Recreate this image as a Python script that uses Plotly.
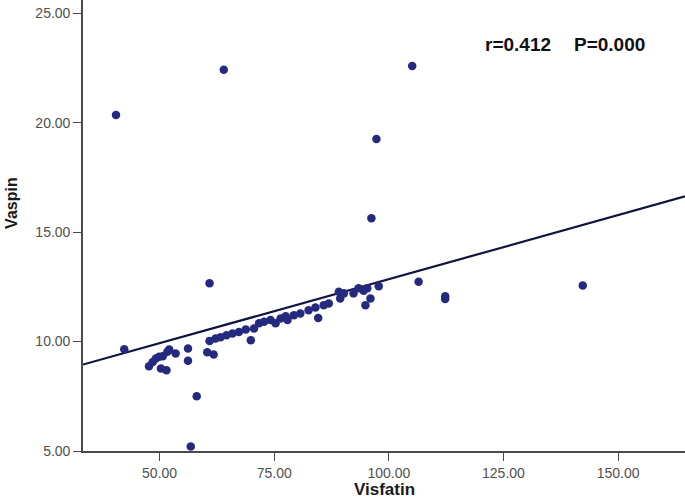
import numpy as np
import plotly.graph_objects as go

# ------Data----------------------------------

visfatin = [42.3, 47.7, 48.5, 49.2, 49.9, 50.7, 50.3, 51.5, 51.7, 52.1,
            53.5, 56.2, 56.2, 58.1, 56.8, 60.4, 61.8, 60.9, 62.2, 63.3,
            64.6, 65.9, 67.3, 68.8, 69.9, 70.6, 71.7, 72.8, 74.2, 75.3,
            76.4, 77.5, 77.9, 79.3, 80.7, 82.5, 84.0, 84.6, 85.8, 86.9,
            89.1, 90.2, 89.4, 92.3, 93.4, 94.5, 95.3, 96.0, 94.9, 97.8,
            106.5, 40.5, 64.0, 105.1, 97.3, 96.2, 60.9, 112.3, 112.3, 142.3]

vaspin = [9.65, 8.87, 9.07, 9.22, 9.30, 9.33, 8.77, 8.69, 9.53, 9.64,
          9.45, 9.68, 9.12, 7.50, 5.21, 9.51, 9.41, 10.03, 10.14, 10.20,
          10.29, 10.37, 10.44, 10.55, 10.06, 10.60, 10.83, 10.90, 10.98, 10.83,
          11.05, 11.16, 10.98, 11.20, 11.28, 11.43, 11.55, 11.08, 11.66, 11.74,
          12.27, 12.20, 11.97, 12.20, 12.43, 12.32, 12.43, 11.97, 11.66, 12.53,
          12.73, 20.35, 22.41, 22.59, 19.25, 15.63, 12.66, 12.07, 11.94, 12.56]

fit_intercept = 7.00
fit_slope = 0.0585
stat_r = "r=0.412"
stat_p = "P=0.000"

x_ticks = [50, 75, 100, 125, 150]
y_ticks = [5, 10, 15, 20, 25]

# ------Graph Generation--------

x_range = [33.3, 164.6]
y_range = [5.0, 25.6]

line_x = np.array(x_range)
line_y = fit_intercept + fit_slope * line_x

font = "Liberation Sans, Arial, sans-serif"
dot_color = "#262a7e"

fig = go.Figure()
fig.add_trace(go.Scatter(x=line_x, y=line_y, mode="lines",
                         line=dict(color="#10143f", width=2.2),
                         hoverinfo="skip"))
fig.add_trace(go.Scatter(x=visfatin, y=vaspin, mode="markers",
                         marker=dict(color=dot_color, size=8.5, line_width=0),
                         cliponaxis=False))

# --------Axes-----------

axis_common = dict(showline=True, linewidth=1.6, linecolor="#4a4a4a",
                   ticks="outside", ticklen=8, tickwidth=1.3, tickcolor="#4a4a4a",
                   showgrid=False, zeroline=False, tickformat=".2f",
                   tickfont=dict(family=font, size=14, color="#505050"))

fig.update_xaxes(range=x_range, tickvals=x_ticks, **axis_common)
fig.update_yaxes(range=y_range, tickvals=y_ticks, **axis_common)

fig.update_layout(
    width=685, height=500,
    showlegend=False,
    plot_bgcolor="white",
    paper_bgcolor="white",
    margin=dict(l=83, r=0, t=0, b=49),
    font=dict(family=font),
)

# ----------Titles / annotations----------

fig.add_annotation(text="<b>Visfatin</b>", xref="paper", yref="paper",
                   x=0.5, y=-0.085, xanchor="center", yanchor="middle",
                   showarrow=False, font=dict(family=font, size=17, color="#1a1a1a"))
fig.add_annotation(text="<b>Vaspin</b>", xref="paper", yref="paper",
                   x=-0.118, y=0.55, xanchor="center", yanchor="middle",
                   textangle=-90, showarrow=False,
                   font=dict(family=font, size=16, color="#1a1a1a"))
fig.add_annotation(text="<b>" + stat_r + "</b>", xref="paper", yref="paper",
                   x=0.664, y=0.902, xanchor="left", yanchor="middle",
                   showarrow=False, font=dict(family=font, size=19, color="#111111"))
fig.add_annotation(text="<b>" + stat_p + "</b>", xref="paper", yref="paper",
                   x=0.812, y=0.902, xanchor="left", yanchor="middle",
                   showarrow=False, font=dict(family=font, size=19, color="#111111"))

# page has a default 8px body margin; drop it so the figure sits at 0,0
fig.write_html("out.html", config={"displayModeBar": False},
               post_script="document.body.style.margin='0';")
